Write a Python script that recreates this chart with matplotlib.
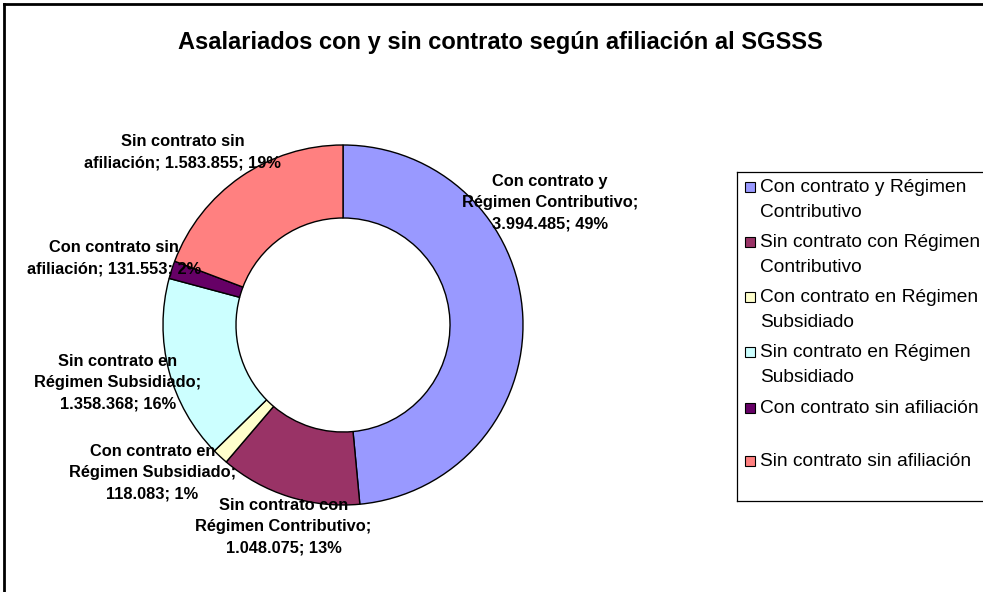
import textwrap
import matplotlib
matplotlib.use("Agg")
import matplotlib.pyplot as plt
from matplotlib.patches import Rectangle
from matplotlib.lines import Line2D

plt.rcParams['font.family'] = ['Liberation Sans', 'DejaVu Sans']

# ---- data ----
title = "Asalariados con y sin contrato según afiliación al SGSSS"
categories = [
    "Con contrato y Régimen Contributivo",
    "Sin contrato con Régimen Contributivo",
    "Con contrato en Régimen Subsidiado",
    "Sin contrato en Régimen Subsidiado",
    "Con contrato sin afiliación",
    "Sin contrato sin afiliación",
]
values = [3994485, 1048075, 118083, 1358368, 131553, 1583855]
colors = ["#9999FF", "#993366", "#FFFFCC", "#CCFFFF", "#660066", "#FF8080"]

# ---- layout ----
W, H, DPI = 983, 592, 100
cx, cy, R = 343, 325, 180          # donut centre / radius in pixels
label_wrap = [21, 21, 21, 21, 23, 26]
label_pos = [(1.15, 0.68), (-0.33, -1.12), (-1.06, -0.82),
             (-1.25, -0.32), (-1.27, 0.37), (-0.89, 0.96)]

fig = plt.figure(figsize=(W / DPI, H / DPI), dpi=DPI)
ax_l, ax_r = cx - 330, cx + 330
ax_t, ax_b = cy - 260, cy + 260
ax = fig.add_axes([ax_l / W, (H - ax_b) / H, (ax_r - ax_l) / W, (ax_b - ax_t) / H])

total = sum(values)
wedges, _ = ax.pie(values, colors=colors, startangle=90, counterclock=False,
                   radius=1.0,
                   wedgeprops=dict(width=1 - 107 / 180, edgecolor="black", linewidth=1.0))
ax.set_xlim(-330 / R, 330 / R)
ax.set_ylim(-260 / R, 260 / R)
ax.set_aspect('equal')
ax.axis('off')

def fmt(v):
    return f"{v:,}".replace(",", ".")

for i, (name, v) in enumerate(zip(categories, values)):
    pct = round(v / total * 100)
    txt = f"{name}; {fmt(v)}; {pct}%"
    txt = "\n".join(textwrap.wrap(txt, label_wrap[i]))
    ax.text(label_pos[i][0], label_pos[i][1], txt, ha="center", va="center",
            fontsize=11.8, fontweight="bold", linespacing=1.5, zorder=5)

# title
fig.text(500 / W, 1 - 42 / H, title, ha="center", va="center",
         fontsize=17, fontweight="bold")

# legend (Excel-style box)
lx0, ly0, ly1 = 737, 172, 501
fig.add_artist(Line2D([lx0 / W, 1.0], [1 - ly0 / H] * 2, color="black", lw=0.9))
fig.add_artist(Line2D([lx0 / W, 1.0], [1 - ly1 / H] * 2, color="black", lw=0.9))
fig.add_artist(Line2D([lx0 / W] * 2, [1 - ly0 / H, 1 - ly1 / H], color="black", lw=0.9))
entry_y = [187, 242, 297, 352, 408, 461]
for i, name in enumerate(categories):
    y = entry_y[i]
    fig.add_artist(Rectangle(((745) / W, 1 - (y + 5) / H), 10 / W, 10 / H,
                             transform=fig.transFigure, facecolor=colors[i],
                             edgecolor="black", lw=0.8))
    lab = "\n".join(textwrap.wrap(name, 27))
    fig.text(760 / W, 1 - (y - 8) / H, lab, ha="left", va="top",
             fontsize=13.8, linespacing=1.6)

# outer chart border (top and left visible)
fig.add_artist(Line2D([3.5 / W, 1.0], [1 - 3.5 / H] * 2, color="black", lw=2))
fig.add_artist(Line2D([3.5 / W] * 2, [0, 1 - 3.5 / H], color="black", lw=2))

fig.savefig("out.png", dpi=DPI)
